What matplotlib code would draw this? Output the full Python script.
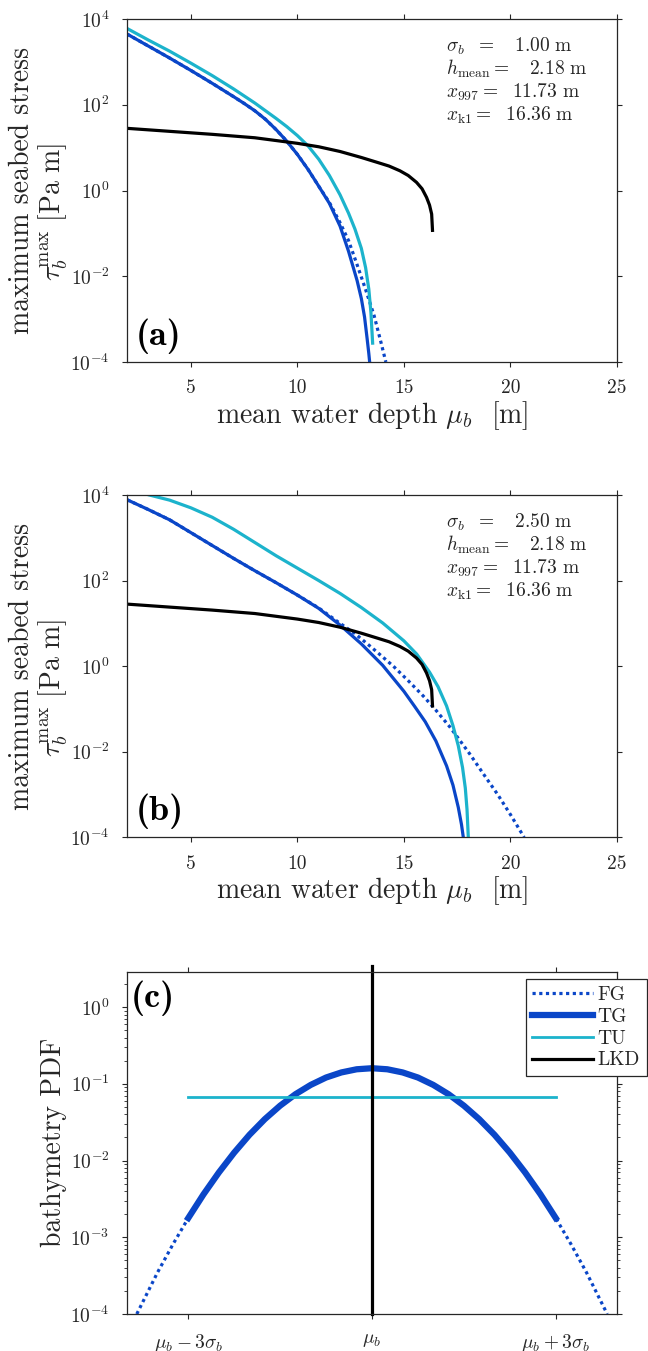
import numpy as np
import matplotlib
matplotlib.use("Agg")
import matplotlib.pyplot as plt
from matplotlib.ticker import FixedLocator, FixedFormatter, NullLocator, LogLocator

plt.rcParams['font.family'] = 'cmr10'
plt.rcParams['mathtext.fontset'] = 'cm'
plt.rcParams['axes.unicode_minus'] = False

# ---------------------------------------------------------------
# data (stress curves given as log10 values)
# ---------------------------------------------------------------
# panel (a): sigma_b = 1.00 m
x_tg_a = [2.0, 3.0, 4.0, 5.0, 6.0, 7.0, 7.5, 8.0, 8.5, 9.0, 9.5, 10.0, 10.5, 11.0, 11.5,
          12.0, 12.4, 12.8, 13.0, 13.15, 13.27, 13.35, 13.40]
log_tg_a = [3.65, 3.37, 3.09, 2.80, 2.50, 2.19, 2.03, 1.86, 1.66, 1.42, 1.15, 0.84, 0.49, 0.10, -0.30,
            -0.83, -1.42, -2.10, -2.52, -2.95, -3.45, -3.80, -4.05]

x_fg_a = [2.0, 3.0, 4.0, 5.0, 6.0, 7.0, 7.5, 8.0, 8.5, 9.0, 9.5, 10.0, 10.5, 11.0, 11.5,
          12.0, 12.4, 12.8, 13.2, 13.6, 13.9, 14.15]
log_fg_a = [3.65, 3.37, 3.09, 2.80, 2.50, 2.19, 2.03, 1.86, 1.66, 1.42, 1.15, 0.84, 0.49, 0.10, -0.28,
            -0.75, -1.17, -1.73, -2.31, -2.92, -3.50, -4.0]

x_tu_a = [2.0, 3.0, 4.0, 5.0, 6.0, 7.0, 8.0, 8.5, 9.0, 9.5, 10.0, 10.5, 11.0, 11.5, 12.0,
          12.4, 12.7, 13.0, 13.2, 13.35, 13.45, 13.53]
log_tu_a = [3.78, 3.51, 3.25, 2.97, 2.68, 2.37, 2.04, 1.86, 1.68, 1.49, 1.28, 1.04, 0.73, 0.35, -0.10,
            -0.53, -0.90, -1.35, -1.80, -2.30, -2.85, -3.56]

# LKD curve (same in both panels)
x_lkd = [2.0, 4.0, 6.0, 8.0, 10.0, 11.0, 12.0, 13.0, 13.72, 14.3, 14.81, 15.2, 15.59, 15.85,
         16.06, 16.2, 16.30, 16.34]
log_lkd = [1.45, 1.38, 1.31, 1.23, 1.10, 1.02, 0.91, 0.77, 0.66, 0.57, 0.46, 0.35, 0.19, 0.04,
           -0.16, -0.34, -0.55, -0.93]

# panel (b): sigma_b = 2.50 m
x_tg_b = [2.0, 3.0, 4.0, 5.0, 6.0, 7.0, 8.0, 9.0, 10.0, 11.0, 12.0, 13.0, 14.0, 15.0, 15.5,
          16.0, 16.5, 17.0, 17.3, 17.55, 17.7, 17.8]
log_tg_b = [3.89, 3.66, 3.42, 3.12, 2.82, 2.52, 2.23, 1.95, 1.66, 1.35, 0.96, 0.52, 0.02, -0.59, -0.94,
            -1.30, -1.75, -2.33, -2.78, -3.30, -3.70, -4.05]

x_fg_b = [2.0, 3.0, 4.0, 5.0, 6.0, 7.0, 8.0, 9.0, 10.0, 11.0, 12.0, 12.7, 13.5, 14.5, 15.2,
          15.91, 16.5, 17.17, 17.6, 18.1, 18.8, 19.4, 20.0, 20.64]
log_fg_b = [3.89, 3.66, 3.42, 3.12, 2.82, 2.52, 2.23, 1.95, 1.66, 1.36, 1.0, 0.76, 0.43, 0.0, -0.34,
            -0.70, -1.03, -1.43, -1.72, -2.06, -2.57, -3.0, -3.47, -4.0]

x_tu_b = [3.05, 4.0, 5.0, 6.0, 7.0, 8.0, 9.0, 10.0, 11.0, 12.0, 13.0, 14.0, 15.0, 15.6, 16.2,
          16.6, 17.0, 17.3, 17.55, 17.75, 17.88, 17.96, 18.02]
log_tu_b = [4.0, 3.88, 3.70, 3.48, 3.20, 2.89, 2.58, 2.29, 2.0, 1.70, 1.37, 1.01, 0.59, 0.28, -0.14,
            -0.48, -0.93, -1.39, -1.86, -2.37, -2.85, -3.35, -4.0]

# annotation values
sigma_b = [1.00, 2.50]
h_mean = 2.18
x997 = 11.73
xk1 = 16.36

# panel (c): bathymetry pdf, x in units of sigma_b around mu_b
z_fg = [-3.84, -3.5, -3.25, -3.0, -2.75, -2.5, -2.25, -2.0, -1.75, -1.5, -1.25, -1.0, -0.75, -0.5,
        -0.25, 0.0, 0.25, 0.5, 0.75, 1.0, 1.25, 1.5, 1.75, 2.0, 2.25, 2.5, 2.75, 3.0, 3.25, 3.5, 3.84]
pdf_fg = [1.0e-4, 3.5e-4, 8.1e-4, 1.78e-3, 3.64e-3, 7.0e-3, 1.27e-2, 2.17e-2, 3.47e-2, 5.2e-2,
          7.33e-2, 9.7e-2, 1.21e-1, 1.41e-1, 1.55e-1, 1.60e-1, 1.55e-1, 1.41e-1, 1.21e-1, 9.7e-2,
          7.33e-2, 5.2e-2, 3.47e-2, 2.17e-2, 1.27e-2, 7.0e-3, 3.64e-3, 1.78e-3, 8.1e-4, 3.5e-4, 1.0e-4]
z_tg = z_fg[3:-3]
pdf_tg = pdf_fg[3:-3]
z_tu = [-3.0, 3.0]
pdf_tu = [0.0667, 0.0667]
z_lkd = [0.0, 0.0]
pdf_lkd = [1e-4, 3.4]

c_ticks = [-3, 0, 3]
c_ticklabels = [r'$\mu_b - 3\sigma_b$', r'$\mu_b$', r'$\mu_b + 3\sigma_b$']
y_ticks_ab = [1e-4, 1e-2, 1e0, 1e2, 1e4]
y_labels_ab = [r'$10^{-4}$', r'$10^{-2}$', r'$10^{0}$', r'$10^{2}$', r'$10^{4}$']
y_ticks_c = [1e-4, 1e-3, 1e-2, 1e-1, 1e0]
y_labels_c = [r'$10^{-4}$', r'$10^{-3}$', r'$10^{-2}$', r'$10^{-1}$', r'$10^{0}$']

# ---------------------------------------------------------------
blue = '#0a46c8'
cyan = '#1cb3cc'
dark = '#262626'

W, H = 648, 1351
fig = plt.figure(figsize=(W / 100, H / 100), dpi=100)


def rect(top, bottom):
    return [127 / W, 1 - bottom / H, 490 / W, (bottom - top) / H]


ax_a = fig.add_axes(rect(19, 362))
ax_b = fig.add_axes(rect(495, 837.3))
ax_c = fig.add_axes(rect(971.7, 1314))


def style(ax):
    for s in ax.spines.values():
        s.set_linewidth(0.9)
        s.set_color(dark)
    ax.tick_params(which='both', direction='out', top=True, right=True,
                   colors=dark, labelsize=14, pad=9)
    ax.tick_params(which='major', length=3.6, width=0.8)
    ax.tick_params(which='minor', length=2.0, width=0.6)


panels = [
    (ax_a, x_tg_a, log_tg_a, x_fg_a, log_fg_a, x_tu_a, log_tu_a, '(a)', sigma_b[0]),
    (ax_b, x_tg_b, log_tg_b, x_fg_b, log_fg_b, x_tu_b, log_tu_b, '(b)', sigma_b[1]),
]
for ax, x_tg, l_tg, x_fg, l_fg, x_tu, l_tu, letter, sb in panels:
    ax.plot(x_tg, 10 ** np.array(l_tg), color=blue, lw=2.3)
    ax.plot(x_fg, 10 ** np.array(l_fg), color=blue, lw=2.3, ls=(0, (1, 1.1)))
    ax.plot(x_tu, 10 ** np.array(l_tu), color=cyan, lw=2.3)
    ax.plot(x_lkd, 10 ** np.array(log_lkd), color='black', lw=2.3)
    ax.set_yscale('log')
    ax.set_xlim(2, 25)
    ax.set_ylim(1e-4, 1e4)
    ax.yaxis.set_major_locator(FixedLocator(y_ticks_ab))
    ax.yaxis.set_major_formatter(FixedFormatter(y_labels_ab))
    ax.yaxis.set_minor_locator(NullLocator())
    ax.set_xticks([5, 10, 15, 20, 25])
    style(ax)
    ax.set_xlabel(r'mean water depth $\mu_b$  [m]', fontsize=20, color=dark, labelpad=1)
    ax.text(-0.215, 0.5, 'maximum seabed stress', transform=ax.transAxes,
            rotation=90, ha='center', va='center', fontsize=20, color=dark)
    ax.text(-0.150, 0.437, r'$\tau_b^{\mathrm{max}}\ [\mathrm{Pa\ m}]$', transform=ax.transAxes,
            rotation=90, ha='center', va='center', fontsize=20, color=dark)
    ax.text(0.017, 0.05, letter, fontname='cmb10', transform=ax.transAxes,
            fontsize=26, color='black', ha='left', va='baseline')
    lines = [r'$\sigma_b\ \ =\ \ \ %.2f\ \mathrm{m}$' % sb,
             r'$h_{\mathrm{mean}} =\ \ \ %.2f\ \mathrm{m}$' % h_mean,
             r'$x_{997} =\ \ %.2f\ \mathrm{m}$' % x997,
             r'$x_{\mathrm{k1}} =\ \ %.2f\ \mathrm{m}$' % xk1]
    for i, s in enumerate(lines):
        ax.text(0.651, 0.905 - i * 0.067, s, transform=ax.transAxes,
                fontsize=14, color=dark, ha='left', va='baseline')

# panel (c)
ax = ax_c
ax.plot(z_fg, pdf_fg, color=blue, lw=2.3, ls=(0, (1, 1.1)), label='FG')
ax.plot(z_tg, pdf_tg, color=blue, lw=4.5, label='TG')
ax.plot(z_tu, pdf_tu, color=cyan, lw=2.0, label='TU')
ax.plot(z_lkd, pdf_lkd, color='black', lw=2.3, label='LKD', clip_on=False)
ax.set_yscale('log')
ax.set_xlim(-4, 4)
ax.set_ylim(1e-4, 2.9)
ax.yaxis.set_major_locator(FixedLocator(y_ticks_c))
ax.yaxis.set_major_formatter(FixedFormatter(y_labels_c))
ax.yaxis.set_minor_locator(LogLocator(base=10, subs=np.arange(2, 10)))
ax.set_xticks(c_ticks)
ax.set_xticklabels(c_ticklabels)
style(ax)
ax.set_ylabel('bathymetry PDF', fontsize=20, color=dark, labelpad=2)
ax.text(0.008, 0.897, '(c)', fontname='cmb10', transform=ax.transAxes,
        fontsize=26, color='black', ha='left', va='baseline')
leg = ax.legend(loc='upper right', bbox_to_anchor=(1.0606, 0.978), borderaxespad=0,
                fontsize=14, handlelength=3.1, handletextpad=0.25, labelspacing=0.2,
                borderpad=0.35, fancybox=False, framealpha=1, edgecolor=dark)
leg.get_frame().set_linewidth(0.9)
for t in leg.get_texts():
    t.set_color(dark)

fig.savefig('out.png', dpi=100)
